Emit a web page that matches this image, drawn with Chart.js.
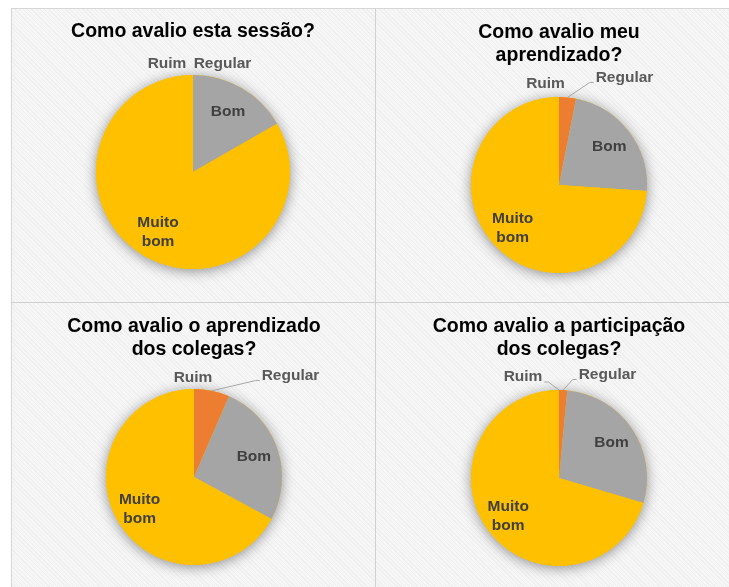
<!DOCTYPE html>
<html>
<head>
<meta charset="utf-8">
<script src="https://cdn.jsdelivr.net/npm/chart.js@4.4.1/dist/chart.umd.min.js"></script>
<style>
  html,body{margin:0;padding:0;background:#fff;width:729px;height:587px;overflow:hidden;}
  #frame{position:absolute;left:11px;top:8px;width:718px;height:579px;
    border-left:1px solid #d6d6d6;border-top:1px solid #d6d6d6;box-sizing:border-box;
    background:repeating-linear-gradient(45deg,#f6f6f6 0px,#f6f6f6 2px,#efefef 2px,#efefef 3px);}
  .vdiv{position:absolute;left:375px;top:8px;width:1px;height:579px;background:#d0d0d0;}
  .hdiv{position:absolute;left:11px;top:302px;width:718px;height:1px;background:#d0d0d0;}
  canvas{position:absolute;}
</style>
</head>
<body>
<div id="frame"></div>
<div class="vdiv"></div>
<div class="hdiv"></div>
<canvas id="c1" width="364" height="294" style="left:11px;top:8px;width:364px;height:294px"></canvas>
<canvas id="c2" width="353" height="294" style="left:376px;top:8px;width:353px;height:294px"></canvas>
<canvas id="c3" width="364" height="284" style="left:11px;top:303px;width:364px;height:284px"></canvas>
<canvas id="c4" width="353" height="284" style="left:376px;top:303px;width:353px;height:284px"></canvas>
<script>
// ---- Data (percent of responses) ----
const categories = ['Ruim', 'Regular', 'Bom', 'Muito bom'];
const sessao = [0, 0, 16.7, 83.3];
const meuAprendizado = [0, 3.1, 23.0, 73.9];
const aprendizadoColegas = [0, 6.5, 26.4, 67.1];
const participacaoColegas = [0, 1.5, 28.1, 70.4];

const titles = [
  'Como avalio esta sessão?',
  ['Como avalio meu', 'aprendizado?'],
  ['Como avalio o aprendizado', 'dos colegas?'],
  ['Como avalio a participação', 'dos colegas?']
];

const colors = ['#4472C4', '#ED7D31', '#A5A5A5', '#FFC000'];
const FONT = '"Liberation Sans", Arial, Helvetica, sans-serif';

const sliceLabels = {
  id: 'sliceLabels',
  beforeDatasetsDraw(chart) {
    const arcs = chart.getDatasetMeta(0).data;
    if (!arcs.length) return;
    const a = arcs[0];
    const ctx = chart.ctx;
    ctx.save();
    ctx.shadowColor = 'rgba(0,0,0,0.42)';
    ctx.shadowBlur = 13;
    ctx.shadowOffsetY = 2;
    ctx.beginPath();
    ctx.arc(a.x, a.y, a.outerRadius, 0, Math.PI * 2);
    ctx.fillStyle = colors[3];
    ctx.fill();
    ctx.restore();
  },
  afterDatasetsDraw(chart, args, opts) {
    const arcs = chart.getDatasetMeta(0).data;
    const ctx = chart.ctx;
    const labels = chart.data.labels;
    ctx.save();
    ctx.font = 'bold 15.5px ' + FONT;
    ctx.textAlign = 'center';
    ctx.textBaseline = 'middle';
    arcs.forEach((arc, i) => {
      const cx = arc.x, cy = arc.y, r = arc.outerRadius;
      const mid = (arc.startAngle + arc.endAngle) / 2;
      const out = opts.outside && opts.outside[i];
      if (out) {
        const lx = cx + out[0], ly = cy - r + out[1];
        ctx.fillStyle = '#595959';
        ctx.fillText(labels[i], lx, ly);
        if (opts.leaders && opts.leaders.includes(i)) {
          const w = ctx.measureText(labels[i]).width;
          const side = out[0] < 0 ? 1 : -1;
          const sx = lx + side * (w / 2 + 2), sy = ly + 5;
          const ex = cx + Math.cos(mid) * r, ey = cy + Math.sin(mid) * r;
          ctx.strokeStyle = '#a6a6a6';
          ctx.lineWidth = 1;
          ctx.beginPath();
          ctx.moveTo(sx, sy);
          ctx.lineTo(sx + side * 4, sy);
          ctx.lineTo(ex, ey);
          ctx.stroke();
        }
      } else {
        const d = r * 0.72;
        const lx = cx + Math.cos(mid) * d, ly = cy + Math.sin(mid) * d;
        ctx.fillStyle = '#404040';
        const parts = labels[i].split(' ');
        const lh = 19;
        parts.forEach((p, k) => {
          ctx.fillText(p, lx, ly + (k - (parts.length - 1) / 2) * lh);
        });
      }
    });
    ctx.restore();
  }
};

function makePie(id, values, title, layoutPad, titlePad, outside, leaders) {
  new Chart(document.getElementById(id), {
    type: 'pie',
    data: {
      labels: categories,
      datasets: [{ data: values, backgroundColor: colors, borderWidth: 0 }]
    },
    options: {
      responsive: false,
      animation: false,
      layout: { padding: layoutPad },
      plugins: {
        legend: { display: false },
        tooltip: { enabled: false },
        title: {
          display: true,
          text: title,
          color: '#000000',
          font: { family: FONT, size: 19.5, weight: 'bold', lineHeight: '22.5px' },
          padding: titlePad
        },
        sliceLabels: { outside: outside, leaders: leaders }
      }
    },
    plugins: [sliceLabels]
  });
}

makePie('c1', sessao, titles[0],
  { left: 0, right: 0, top: 0, bottom: 33 },
  { top: 12, bottom: 32.5 },
  { 0: [-26, -11], 1: [29.5, -11] }, []);

makePie('c2', meuAprendizado, titles[1],
  { left: 13, right: 0, top: 0, bottom: 29 },
  { top: 13.5, bottom: 30.5 },
  { 0: [-13.5, -13.5], 1: [65.5, -19.5] }, [1]);

makePie('c3', aprendizadoColegas, titles[2],
  { left: 2, right: 0, top: 0, bottom: 22 },
  { top: 12.5, bottom: 28.5 },
  { 0: [-1, -11.5], 1: [96.5, -13.5] }, [1]);

makePie('c4', participacaoColegas, titles[3],
  { left: 13, right: 0, top: 0, bottom: 21 },
  { top: 12.5, bottom: 29.5 },
  { 0: [-36, -13], 1: [48.5, -15.5] }, [0, 1]);
</script>
</body>
</html>
